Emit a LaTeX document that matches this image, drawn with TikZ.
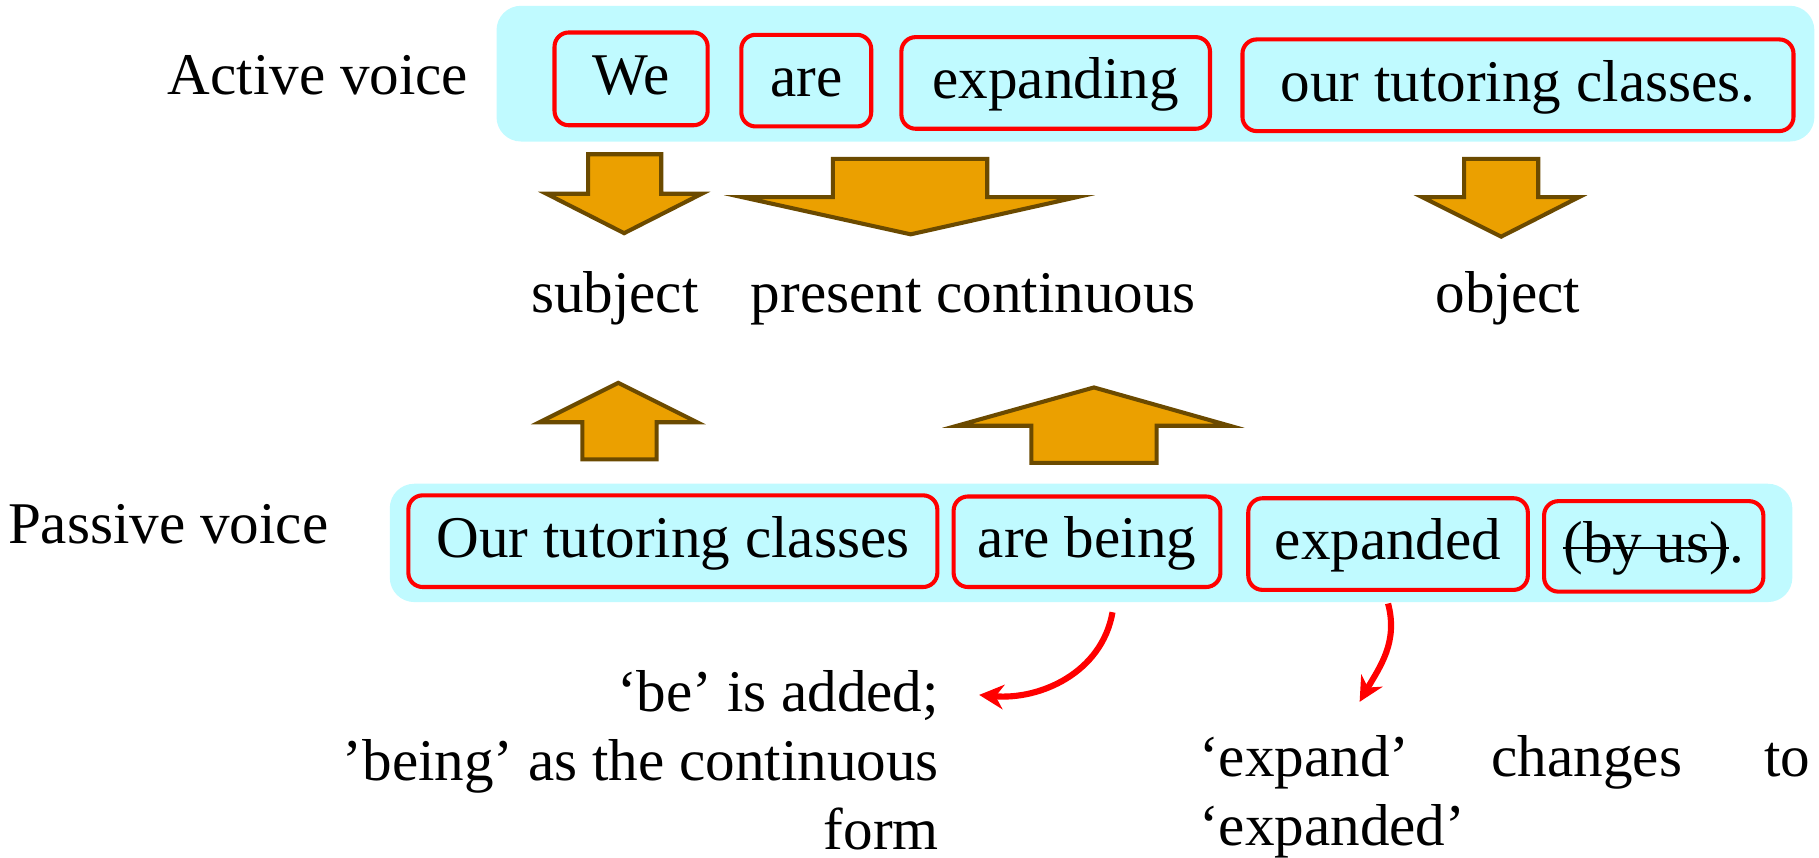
\documentclass[tikz,border=0pt]{standalone}
\usepackage{fontspec}
\setmainfont{Liberation Serif}
\usetikzlibrary{arrows.meta}

\definecolor{bandcyan}{RGB}{192,250,255}
\definecolor{arroworange}{RGB}{235,160,0}
\definecolor{arrowbrown}{RGB}{107,74,0}

\newcommand{\struckout}[1]{\setbox0\hbox{#1}\rlap{\rule[0.5ex]{\wd0}{0.5pt}}\box0}

\tikzset{
  band/.style={fill=bandcyan, rounded corners=6pt},
  wordbox/.style={draw=red, line width=1pt, rounded corners=3.5pt, inner sep=0pt,
    text height=1.7ex, text depth=0pt},
  sidetag/.style={inner sep=0pt, text height=1.7ex, text depth=0pt},
  fatarrow/.style={fill=arroworange, draw=arrowbrown, line width=1pt},
  notetext/.style={inner sep=0pt},
  redcurve/.style={draw=red, line width=1.5pt, -{Stealth[length=6pt,width=6pt]}}
}

\begin{document}
\begin{tikzpicture}[font=\fontsize{14.5}{17}\selectfont]
\useasboundingbox (0,0) rectangle (15.68,7.39);

% active voice
\fill[band] (4.28,7.34) rectangle (15.64,6.17);
\node[sidetag] (active) at (2.74,6.71) {Active voice};
\node[wordbox, minimum width=1.32cm, minimum height=0.80cm] (webox) at (5.44,6.71) {We};
\node[wordbox, minimum width=1.12cm, minimum height=0.79cm] (arebox) at (6.95,6.695) {are};
\node[wordbox, minimum width=2.66cm, minimum height=0.79cm] (expandingbox) at (9.10,6.675) {expanding};
\node[wordbox, minimum width=4.75cm, minimum height=0.79cm] (classesbox) at (13.085,6.655) {our tutoring classes.};

% down arrows
\draw[fatarrow] (5.07,6.06) -- (5.70,6.06) -- (5.70,5.72) -- (6.05,5.72) -- (5.38,5.38) -- (4.71,5.72) -- (5.07,5.72) -- cycle;
\draw[fatarrow] (7.18,6.02) -- (8.51,6.02) -- (8.51,5.69) -- (9.28,5.69) -- (7.85,5.37) -- (6.40,5.69) -- (7.18,5.69) -- cycle;
\draw[fatarrow] (12.62,6.02) -- (13.26,6.02) -- (13.26,5.69) -- (13.61,5.69) -- (12.94,5.35) -- (12.26,5.69) -- (12.62,5.69) -- cycle;

% functions
\node[sidetag] (subject) at (5.30,4.83) {subject};
\node[sidetag] (tense) at (8.39,4.83) {present continuous};
\node[sidetag] (object) at (13.00,4.83) {object};

% up arrows
\draw[fatarrow] (5.02,3.43) -- (5.66,3.43) -- (5.66,3.75) -- (6.01,3.75) -- (5.33,4.09) -- (4.65,3.75) -- (5.02,3.75) -- cycle;
\draw[fatarrow] (8.89,3.40) -- (9.97,3.40) -- (9.97,3.72) -- (10.60,3.72) -- (9.43,4.05) -- (8.25,3.72) -- (8.89,3.72) -- cycle;

% passive voice
\fill[band] (3.36,3.22) rectangle (15.45,2.20);
\node[sidetag] (passive) at (1.45,2.84) {Passive voice};
\node[wordbox, minimum width=4.56cm, minimum height=0.79cm] (ourbox) at (5.80,2.725) {Our tutoring classes};
\node[wordbox, minimum width=2.30cm, minimum height=0.78cm] (beingbox) at (9.37,2.72) {are being};
\node[wordbox, minimum width=2.41cm, minimum height=0.79cm] (expandedbox) at (11.965,2.70) {expanded};
\node[wordbox, minimum width=1.89cm, minimum height=0.78cm] (byusbox) at (14.255,2.68) {\struckout{(by us)}.};

% notes
\node[notetext, align=right, anchor=north east] (addnote) at (8.10,1.62)
  {‘be’ is added;\\’being’ as the continuous\\form};
\node[notetext, align=left, text width=5.27cm, anchor=north west] (expnote) at (10.33,1.06)
  {‘expand’\hfill changes\hfill to\\‘expanded’};

\coordinate (addtip) at (8.44,1.40);
\coordinate (exptip) at (11.72,1.34);
\draw[redcurve] ([xshift=0.22cm,yshift=-0.2cm]beingbox.south) to[out=-100,in=-5] (addtip);
\draw[redcurve] ([yshift=-0.1cm]expandedbox.south) to[out=-75,in=60] (exptip);
\end{tikzpicture}
\end{document}
